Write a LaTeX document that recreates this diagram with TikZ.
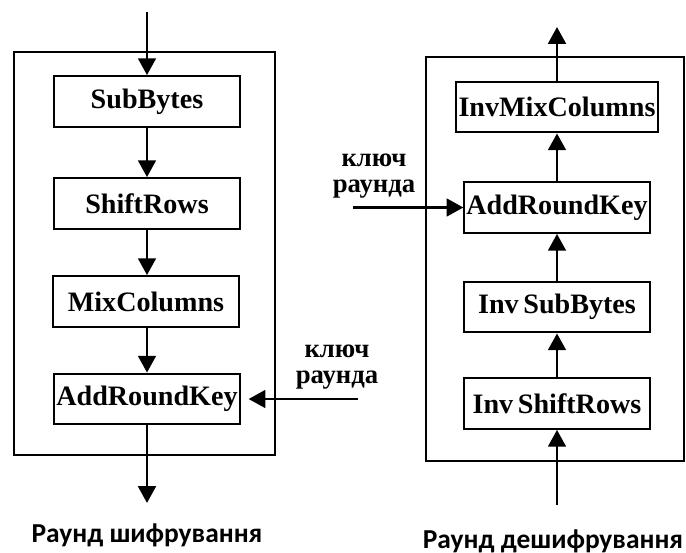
\documentclass[tikz,border=0pt]{standalone}
\usepackage{fontspec}
\setmainfont{Liberation Serif}
\newfontfamily\captionfont{Carlito}
\usetikzlibrary{arrows.meta}
\tikzset{
  aes step/.style={
    draw,line width=1.4pt,minimum width=4.63cm,minimum height=1.27cm,
    inner sep=0pt,font=\fontsize{20}{20}\selectfont\bfseries
  },
  aes frame/.style={line width=1.8pt},
  aes arrow/.style={-{Triangle[length=0.42cm,width=0.44cm]},line width=2.1pt},
  aes key/.style={align=center,font=\fontsize{19}{18.5}\selectfont\bfseries},
  aes title/.style={font=\fontsize{19.5}{20}\selectfont\captionfont\bfseries}
}

\begin{document}
\begin{tikzpicture}[x=0.025cm,y=-0.025cm]
  \useasboundingbox (0,0) rectangle (686,553);

  % encryption round
  \draw[aes frame] (14,52) rectangle (275,455);
  \node[aes step] (sb) at (147,101.5) {SubBytes};
  \node[aes step] (sr) at (147,203.5) {ShiftRows};
  \node[aes step] (mc) at (146,301.5) {MixColumns};
  \node[aes step] (akl) at (147,399) {AddRoundKey};
  \coordinate (encin) at (147,12);
  \coordinate (encout) at (147,503);
  \coordinate (keyl) at (358,399);
  \node[aes key] (keyltext) at (337,367) {ключ\\раунда};
  \node[aes title] (enctitle) at (147,535) {Раунд шифрування};
  \draw[aes arrow] (encin)--(sb);
  \draw[aes arrow] (sb)--(sr);
  \draw[aes arrow] (sr)--(mc.north -| sr);
  \draw[aes arrow] (mc.south -| akl)--(akl);
  \draw[aes arrow] (akl)--(encout);
  \draw[aes arrow,shorten >=0.2cm] (keyl)--(akl);

  % decryption round
  \draw[aes frame] (426,57) rectangle (684,461);
  \node[aes step,minimum width=5.05cm] (imc) at (557,107) {InvMixColumns};
  \node[aes step] (akr) at (557,207.5) {AddRoundKey};
  \node[aes step] (isb) at (557,307) {Inv\,SubBytes};
  \node[aes step] (isr) at (557,403.5) {Inv\,ShiftRows};
  \coordinate (decin) at (557,505);
  \coordinate (decout) at (557,27);
  \coordinate (keyr) at (353,207.5);
  \node[aes key] (keyrtext) at (374,176) {ключ\\раунда};
  \node[aes title] (dectitle) at (553,541) {Раунд дешифрування};
  \draw[aes arrow] (decin)--(isr);
  \draw[aes arrow] (isr)--(isb);
  \draw[aes arrow] (isb)--(akr);
  \draw[aes arrow] (akr)--(imc);
  \draw[aes arrow] (imc)--(decout);
  \draw[aes arrow] (keyr)--(akr);
\end{tikzpicture}
\end{document}
